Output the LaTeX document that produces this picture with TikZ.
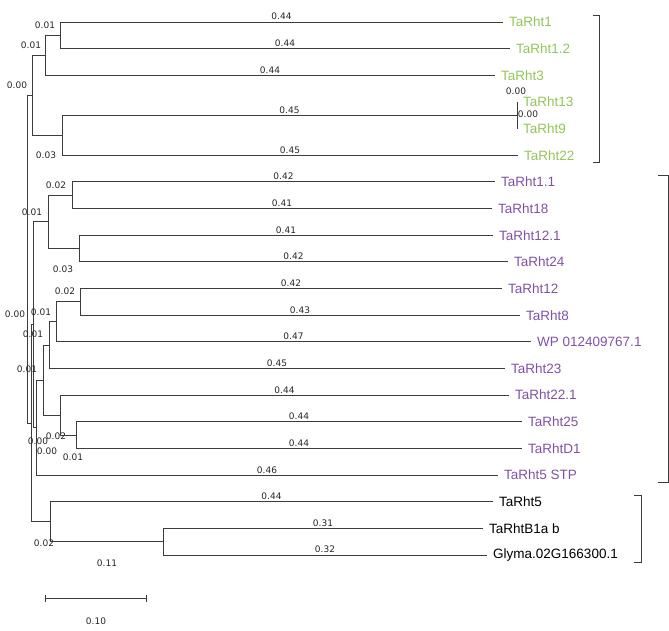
\documentclass[tikz,border=0pt]{standalone}
\usepackage{fontspec}
\setmainfont{Liberation Sans}
\newfontfamily\numfont{DejaVu Sans}
\definecolor{cladegreen}{RGB}{146,198,86}
\definecolor{cladepurple}{RGB}{128,80,170}
\definecolor{treegray}{RGB}{60,60,60}
\tikzset{
  branch/.style={draw=treegray, line width=0.9pt},
  leaf/.style={anchor=west, inner xsep=6pt, inner ysep=0pt, font=\fontsize{13.5}{15}\selectfont},
  leafgreen/.style={leaf, text=cladegreen},
  leafpurple/.style={leaf, text=cladepurple},
  leafblack/.style={leaf, text=black},
  blen/.style={font=\numfont\fontsize{9}{10}\selectfont, inner sep=1.5pt, text=black!85},
  bracket/.style={draw=treegray, line width=0.9pt},
}
\begin{document}
\begin{tikzpicture}[x=1pt, y=-1pt]
  \useasboundingbox (0,0) rectangle (669,631);
  % leaves
  \node[leafgreen] (t1) at (503,22) {TaRht1};
  \node[leafgreen] (t1b) at (510,48.6) {TaRht1.2};
  \node[leafgreen] (t3) at (495,75.3) {TaRht3};
  \node[leafgreen] (t13) at (517,102) {TaRht13};
  \node[leafgreen] (t9) at (517,128.6) {TaRht9};
  \node[leafgreen] (t22) at (518,155.3) {TaRht22};
  \node[leafpurple] (t1c) at (495,181.9) {TaRht1.1};
  \node[leafpurple] (t18) at (492,208.6) {TaRht18};
  \node[leafpurple] (t12b) at (493,235.2) {TaRht12.1};
  \node[leafpurple] (t24) at (508,261.9) {TaRht24};
  \node[leafpurple] (t12) at (502,288.5) {TaRht12};
  \node[leafpurple] (t8) at (520,315.2) {TaRht8};
  \node[leafpurple] (wp) at (531,341.8) {WP 012409767.1};
  \node[leafpurple] (t23) at (505,368.5) {TaRht23};
  \node[leafpurple] (t22b) at (509,395.1) {TaRht22.1};
  \node[leafpurple] (t25) at (522,421.8) {TaRht25};
  \node[leafpurple] (td1) at (522,448.4) {TaRhtD1};
  \node[leafpurple] (t5stp) at (498,475.1) {TaRht5 STP};
  \node[leafblack] (t5) at (493,501.7) {TaRht5};
  \node[leafblack] (tb1a) at (483,528.4) {TaRhtB1a b};
  \node[leafblack] (gly) at (487,555) {Glyma.02G166300.1};
  % internal nodes
  \coordinate (nA) at (60,35.3);
  \coordinate (nB) at (45,55.3);
  \coordinate (nX) at (517,115.3);
  \coordinate (nC) at (62,135.3);
  \coordinate (nD) at (32,95.3);
  \coordinate (nE) at (72,195.2);
  \coordinate (nF) at (79,248.5);
  \coordinate (nG) at (48,221.9);
  \coordinate (nH) at (80,301.8);
  \coordinate (nI) at (56,321.8);
  \coordinate (nJ) at (49,345.1);
  \coordinate (nM) at (76,435.1);
  \coordinate (nL) at (60,415.1);
  \coordinate (nK) at (43,380.1);
  \coordinate (nN) at (36,427.6);
  \coordinate (nQ) at (33,324.8);
  \coordinate (nS) at (163,541.7);
  \coordinate (nR) at (50,521.7);
  \coordinate (nP) at (31,423.2);
  \coordinate (root) at (27,259.2);
  % branches
  \draw[branch] (nA) |- node[blen, above, pos=.75] {0.44} (t1.west);
  \draw[branch] (nA) |- node[blen, above, pos=.75] {0.44} (t1b.west);
  \draw[branch] (nB) |- (nA);
  \draw[branch] (nB) |- node[blen, above, pos=.75] {0.44} (t3.west);
  \draw[branch] (nX) |- (t13.west);
  \draw[branch] (nX) |- (t9.west);
  \draw[branch] (nC) |- node[blen, above, pos=.75] {0.45} (nX);
  \draw[branch] (nC) |- node[blen, above, pos=.75] {0.45} (t22.west);
  \draw[branch] (nD) |- (nB);
  \draw[branch] (nD) |- (nC);
  \draw[branch] (nE) |- node[blen, above, pos=.75] {0.42} (t1c.west);
  \draw[branch] (nE) |- node[blen, above, pos=.75] {0.41} (t18.west);
  \draw[branch] (nF) |- node[blen, above, pos=.75] {0.41} (t12b.west);
  \draw[branch] (nF) |- node[blen, above, pos=.75] {0.42} (t24.west);
  \draw[branch] (nG) |- (nE);
  \draw[branch] (nG) |- (nF);
  \draw[branch] (nH) |- node[blen, above, pos=.75] {0.42} (t12.west);
  \draw[branch] (nH) |- node[blen, above, pos=.75] {0.43} (t8.west);
  \draw[branch] (nI) |- (nH);
  \draw[branch] (nI) |- node[blen, above, pos=.75] {0.47} (wp.west);
  \draw[branch] (nJ) |- (nI);
  \draw[branch] (nJ) |- node[blen, above, pos=.75] {0.45} (t23.west);
  \draw[branch] (nM) |- node[blen, above, pos=.75] {0.44} (t25.west);
  \draw[branch] (nM) |- node[blen, above, pos=.75] {0.44} (td1.west);
  \draw[branch] (nL) |- node[blen, above, pos=.75] {0.44} (t22b.west);
  \draw[branch] (nL) |- (nM);
  \draw[branch] (nK) |- (nJ);
  \draw[branch] (nK) |- (nL);
  \draw[branch] (nN) |- (nK);
  \draw[branch] (nN) |- node[blen, above, pos=.75] {0.46} (t5stp.west);
  \draw[branch] (nQ) |- (nG);
  \draw[branch] (nQ) |- (nN);
  \draw[branch] (nS) |- node[blen, above, pos=.75] {0.31} (tb1a.west);
  \draw[branch] (nS) |- node[blen, above, pos=.75] {0.32} (gly.west);
  \draw[branch] (nR) |- node[blen, above, pos=.75] {0.44} (t5.west);
  \draw[branch] (nR) |- (nS);
  \draw[branch] (nP) |- (nQ);
  \draw[branch] (nP) |- (nR);
  \draw[branch] (root) |- (nD);
  \draw[branch] (root) |- (nP);
  % inner branch lengths
  \node[blen] (lA) at (45,25) {0.01};
  \node[blen] (lB) at (31,45) {0.01};
  \node[blen] (lC) at (46,155) {0.03};
  \node[blen] (lD) at (17,85) {0.00};
  \node[blen] (lE) at (56,185) {0.02};
  \node[blen] (lG) at (32,212) {0.01};
  \node[blen] (lF) at (63,269) {0.03};
  \node[blen] (lH) at (65,291) {0.02};
  \node[blen] (lI) at (41,312) {0.01};
  \node[blen] (lQ) at (15,314) {0.00};
  \node[blen] (lJ) at (33,334) {0.01};
  \node[blen] (lK) at (27,369) {0.01};
  \node[blen] (lL) at (56,436) {0.02};
  \node[blen] (lP) at (38,441) {0.00};
  \node[blen] (lN) at (47,451) {0.00};
  \node[blen] (lM) at (73,457) {0.01};
  \node[blen] (lR) at (44,543) {0.02};
  \node[blen] (lS) at (107,563) {0.11};
  \node[blen] (l13) at (516,91) {0.00};
  \node[blen] (l9) at (528,114) {0.00};
  % clade brackets
  \draw[bracket] (593,15) -- (599,15) -- (599,162) -- (593,162);
  \draw[bracket] (658,175) -- (668,175) -- (668,482) -- (658,482);
  \draw[bracket] (634,495) -- (641,495) -- (641,562) -- (634,562);
  % scale bar
  \coordinate (sb0) at (45.7,598);
  \coordinate (sb1) at (146.7,598);
  \draw[branch] (sb0) -- (sb1);
  \draw[branch] (sb0) ++(0,-3.5) -- ++(0,7);
  \draw[branch] (sb1) ++(0,-3.5) -- ++(0,7);
  \node[blen] (lsb) at (96,621) {0.10};
\end{tikzpicture}
\end{document}
